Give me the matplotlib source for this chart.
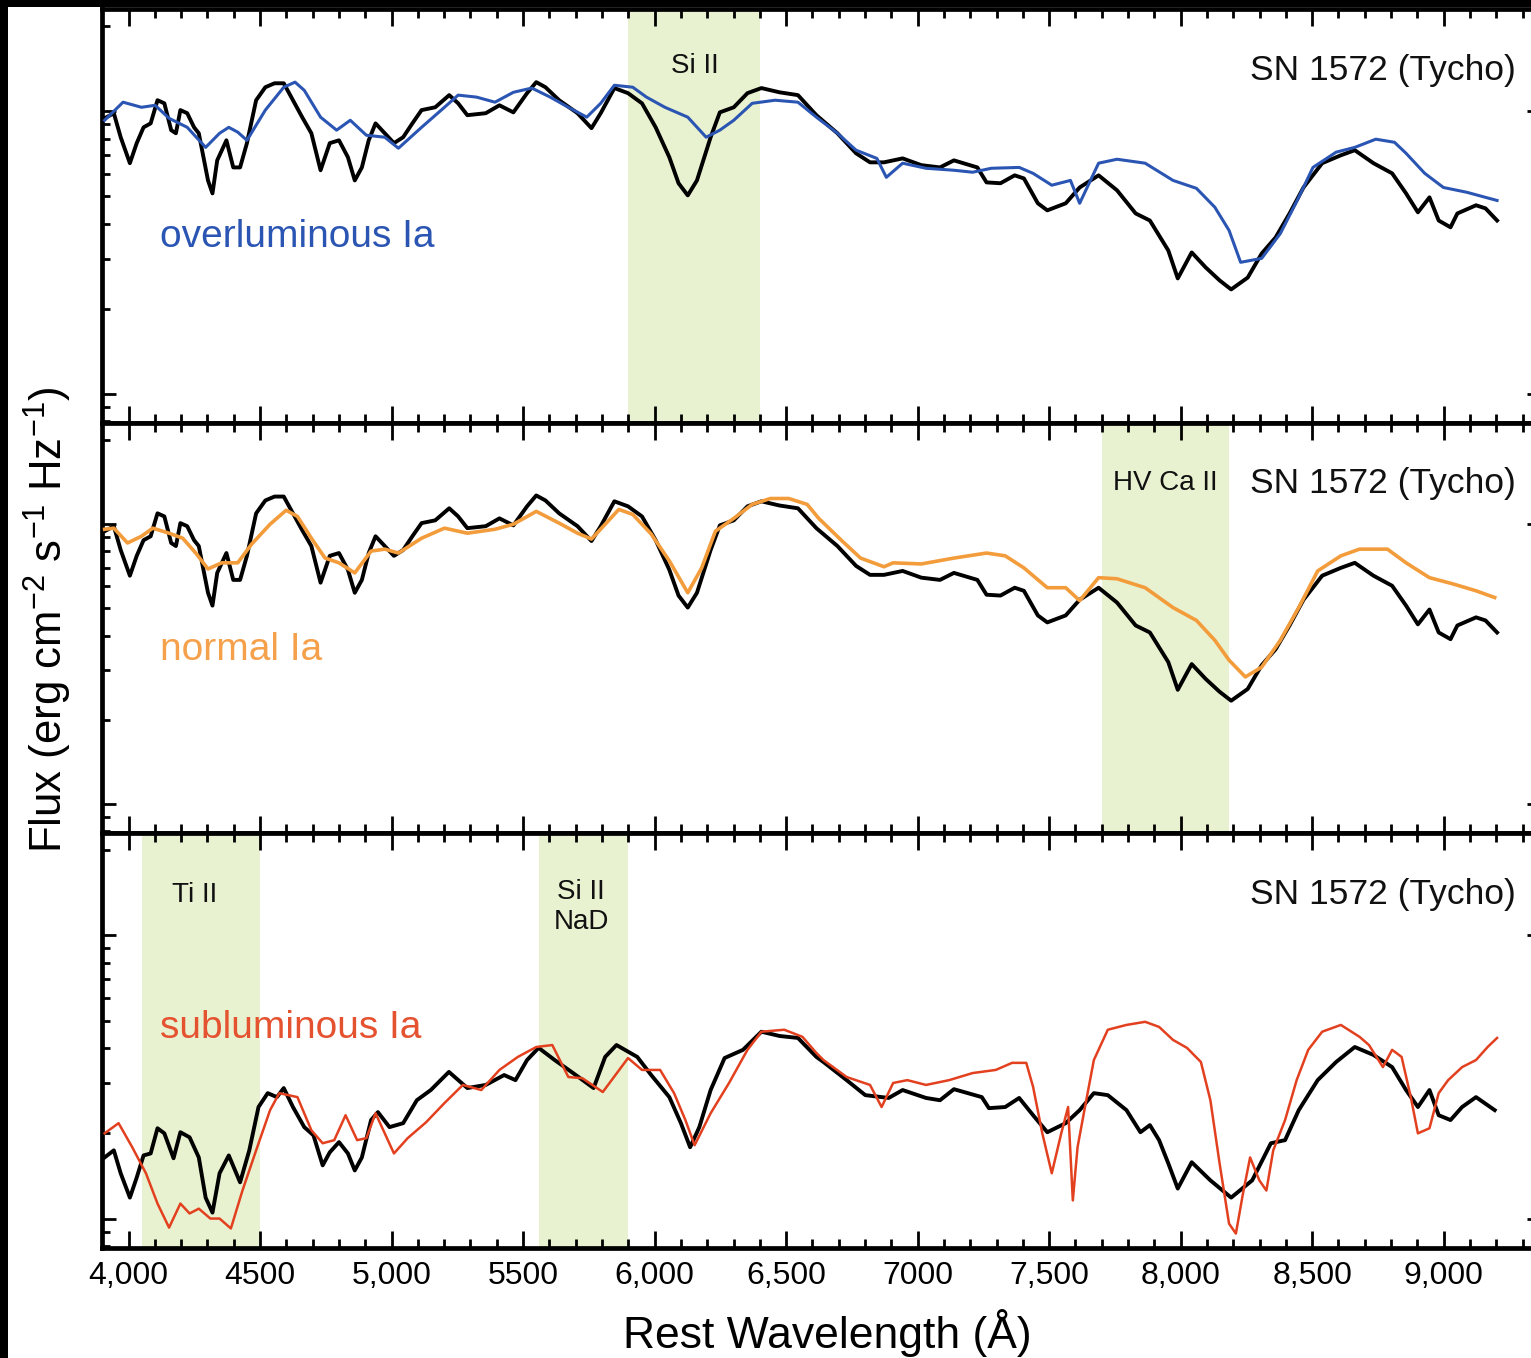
import numpy as np
import matplotlib
matplotlib.use("Agg")
import matplotlib.pyplot as plt
from matplotlib.ticker import MultipleLocator, FixedLocator, FixedFormatter, LogLocator, NullFormatter
from matplotlib.patches import Rectangle

plt.rcParams['font.family'] = ['Liberation Sans', 'DejaVu Sans']
plt.rcParams['mathtext.default'] = 'regular'

# ---------------- data (wavelength in Angstrom, log10 relative flux) ----------------
tycho_wl = [3909, 3944, 3970, 4005, 4031, 4057, 4084, 4110, 4136, 4162, 4180, 4197, 4223, 4249, 4267,
            4302, 4319, 4337, 4372, 4398, 4424, 4450, 4485, 4520, 4555, 4590, 4625, 4660, 4695, 4730,
            4765, 4800, 4834, 4860, 4887, 4913, 4939, 4974, 5009, 5044, 5079, 5114, 5166, 5219, 5253,
            5288, 5358, 5410, 5463, 5515, 5550, 5585, 5637, 5707, 5760, 5795, 5847, 5899, 5952, 6004,
            6056, 6091, 6126, 6161, 6213, 6248, 6301, 6353, 6406, 6475, 6545, 6615, 6695, 6766, 6819,
            6872, 6943, 7014, 7085, 7138, 7227, 7262, 7315, 7369, 7404, 7457, 7493, 7563, 7616, 7688,
            7758, 7829, 7883, 7953, 7989, 8042, 8095, 8148, 8192, 8255, 8308, 8361, 8414, 8467, 8538,
            8609, 8662, 8733, 8804, 8857, 8902, 8946, 8981, 9026, 9052, 9123, 9159, 9203]
tycho_logf = [0.975, 0.993, 0.908, 0.816, 0.887, 0.943, 0.957, 1.039, 1.028, 0.933, 0.922, 1.004, 0.993, 0.943, 0.922,
              0.755, 0.709, 0.826, 0.897, 0.801, 0.801, 0.887, 1.039, 1.085, 1.099, 1.099, 1.039, 0.979, 0.922, 0.791,
              0.887, 0.897, 0.837, 0.755, 0.801, 0.897, 0.957, 0.922, 0.887, 0.908, 0.957, 1.004, 1.014, 1.057, 1.028,
              0.986, 0.993, 1.021, 0.996, 1.064, 1.103, 1.085, 1.039, 0.993, 0.940, 0.993, 1.082, 1.064, 1.028, 0.943,
              0.837, 0.745, 0.702, 0.755, 0.908, 0.996, 1.014, 1.064, 1.082, 1.067, 1.057, 0.986, 0.922, 0.851, 0.819,
              0.819, 0.833, 0.809, 0.801, 0.826, 0.801, 0.748, 0.745, 0.773, 0.762, 0.674, 0.649, 0.674, 0.730, 0.773,
              0.720, 0.638, 0.613, 0.507, 0.408, 0.500, 0.447, 0.401, 0.369, 0.411, 0.496, 0.553, 0.638, 0.730, 0.816,
              0.844, 0.862, 0.816, 0.780, 0.709, 0.642, 0.695, 0.613, 0.589, 0.638, 0.667, 0.656, 0.613]

over_wl = [3909, 3979, 4049, 4101, 4154, 4223, 4293, 4346, 4381, 4415, 4450, 4520, 4590, 4633, 4668,
           4730, 4791, 4843, 4904, 4974, 5026, 5114, 5201, 5253, 5323, 5393, 5463, 5533, 5603, 5672,
           5742, 5795, 5847, 5917, 5969, 6039, 6126, 6196, 6248, 6301, 6371, 6458, 6545, 6615, 6695,
           6766, 6845, 6881, 6943, 7032, 7138, 7209, 7280, 7386, 7439, 7510, 7581, 7616, 7688, 7758,
           7865, 7971, 8060, 8130, 8184, 8228, 8308, 8379, 8449, 8503, 8591, 8662, 8742, 8813, 8857,
           8928, 8999, 9088, 9159, 9203]
over_logf = [0.968, 1.032, 1.014, 1.021, 0.975, 0.943, 0.872, 0.922, 0.943, 0.926, 0.897, 1.004, 1.085, 1.103, 1.074,
             0.979, 0.933, 0.968, 0.915, 0.908, 0.869, 0.943, 1.014, 1.057, 1.050, 1.032, 1.067, 1.082, 1.050, 1.014,
             0.979, 1.028, 1.092, 1.085, 1.050, 1.014, 0.979, 0.908, 0.933, 0.968, 1.028, 1.039, 1.032, 0.979, 0.922,
             0.862, 0.833, 0.766, 0.816, 0.798, 0.791, 0.784, 0.798, 0.801, 0.780, 0.738, 0.755, 0.674, 0.816, 0.830,
             0.816, 0.755, 0.727, 0.660, 0.578, 0.465, 0.479, 0.567, 0.695, 0.801, 0.855, 0.872, 0.901, 0.890, 0.851,
             0.780, 0.730, 0.713, 0.695, 0.684]

normal_wl = [3909, 3944, 3996, 4049, 4092, 4154, 4206, 4258, 4302, 4354, 4415, 4468, 4538, 4599, 4642,
             4695, 4747, 4800, 4860, 4922, 4974, 5026, 5114, 5201, 5288, 5393, 5463, 5550, 5637, 5707,
             5760, 5812, 5864, 5917, 5987, 6056, 6126, 6179, 6231, 6301, 6371, 6440, 6510, 6580, 6624,
             6713, 6783, 6872, 6907, 7014, 7138, 7262, 7333, 7404, 7493, 7563, 7616, 7688, 7758, 7865,
             7971, 8060, 8130, 8184, 8246, 8308, 8379, 8449, 8521, 8609, 8680, 8786, 8857, 8946, 9034,
             9123, 9194]
normal_logf = [0.982, 0.986, 0.933, 0.957, 0.986, 0.968, 0.950, 0.894, 0.840, 0.862, 0.862, 0.929, 1.000, 1.050, 1.028,
               0.950, 0.879, 0.862, 0.826, 0.904, 0.911, 0.897, 0.950, 0.986, 0.968, 0.982, 1.000, 1.046, 1.004, 0.968,
               0.947, 1.000, 1.053, 1.035, 0.965, 0.869, 0.755, 0.844, 0.975, 1.021, 1.071, 1.092, 1.092, 1.071, 1.021,
               0.940, 0.879, 0.848, 0.862, 0.858, 0.879, 0.897, 0.887, 0.844, 0.773, 0.773, 0.727, 0.809, 0.805, 0.773,
               0.702, 0.656, 0.585, 0.514, 0.454, 0.489, 0.585, 0.702, 0.833, 0.887, 0.911, 0.911, 0.862, 0.809, 0.787,
               0.762, 0.738]

tycho3_wl = [3909, 3944, 3970, 4005, 4031, 4057, 4084, 4110, 4136, 4171, 4197, 4232, 4267, 4293, 4319,
             4346, 4381, 4424, 4459, 4494, 4529, 4564, 4590, 4625, 4668, 4703, 4738, 4765, 4800, 4834,
             4860, 4887, 4922, 4948, 4992, 5044, 5096, 5149, 5218, 5288, 5358, 5428, 5471, 5515, 5559,
             5620, 5690, 5768, 5812, 5855, 5934, 5987, 6056, 6100, 6135, 6170, 6213, 6266, 6336, 6406,
             6475, 6545, 6615, 6642, 6730, 6801, 6890, 6943, 7032, 7085, 7138, 7244, 7271, 7333, 7386,
             7439, 7493, 7563, 7616, 7670, 7723, 7794, 7847, 7883, 7918, 7953, 7989, 8042, 8113, 8192,
             8272, 8343, 8397, 8449, 8521, 8591, 8662, 8733, 8804, 8857, 8902, 8946, 8981, 9026, 9070,
             9123, 9194]
tycho3_logf = [0.216, 0.241, 0.160, 0.074, 0.145, 0.223, 0.230, 0.319, 0.301, 0.213, 0.305, 0.287, 0.216, 0.074, 0.021,
               0.160, 0.223, 0.128, 0.241, 0.394, 0.443, 0.429, 0.461, 0.394, 0.323, 0.294, 0.188, 0.234, 0.270, 0.230,
               0.170, 0.216, 0.348, 0.376, 0.323, 0.337, 0.418, 0.454, 0.518, 0.461, 0.472, 0.507, 0.489, 0.560, 0.603,
               0.560, 0.514, 0.461, 0.571, 0.613, 0.571, 0.507, 0.429, 0.337, 0.252, 0.323, 0.454, 0.567, 0.596, 0.660,
               0.645, 0.638, 0.571, 0.553, 0.489, 0.436, 0.426, 0.454, 0.426, 0.418, 0.457, 0.429, 0.390, 0.394, 0.426,
               0.365, 0.305, 0.337, 0.383, 0.443, 0.436, 0.383, 0.305, 0.330, 0.277, 0.195, 0.106, 0.199, 0.135, 0.074,
               0.135, 0.266, 0.277, 0.383, 0.489, 0.553, 0.606, 0.578, 0.535, 0.454, 0.394, 0.454, 0.365, 0.348, 0.394,
               0.429, 0.383]

sub_wl = [3909, 3962, 4014, 4066, 4110, 4154, 4197, 4232, 4267, 4311, 4346, 4389, 4433, 4485, 4538,
          4573, 4642, 4695, 4738, 4782, 4825, 4869, 4904, 4939, 5009, 5061, 5131, 5201, 5271, 5341,
          5410, 5480, 5550, 5611, 5672, 5725, 5803, 5899, 5952, 6021, 6074, 6117, 6152, 6213, 6283,
          6353, 6406, 6493, 6562, 6615, 6642, 6730, 6819, 6863, 6907, 6961, 7032, 7120, 7209, 7297,
          7359, 7413, 7439, 7474, 7510, 7546, 7572, 7590, 7608, 7634, 7670, 7723, 7794, 7865, 7918,
          7971, 8024, 8077, 8113, 8148, 8184, 8210, 8237, 8264, 8299, 8326, 8352, 8397, 8441, 8485,
          8538, 8609, 8680, 8716, 8769, 8804, 8840, 8875, 8902, 8946, 8981, 9017, 9070, 9123, 9167,
          9203]
sub_logf = [0.301, 0.337, 0.252, 0.160, 0.053, -0.032, 0.053, 0.018, 0.035, 0.000, 0.000, -0.035, 0.099, 0.241, 0.383,
            0.443, 0.429, 0.312, 0.266, 0.277, 0.365, 0.277, 0.284, 0.372, 0.230, 0.284, 0.340, 0.408, 0.472, 0.454,
            0.525, 0.571, 0.606, 0.613, 0.500, 0.496, 0.447, 0.567, 0.525, 0.525, 0.443, 0.348, 0.259, 0.372, 0.479,
            0.596, 0.660, 0.667, 0.642, 0.585, 0.560, 0.500, 0.472, 0.394, 0.479, 0.489, 0.472, 0.489, 0.514, 0.525,
            0.550, 0.550, 0.465, 0.301, 0.160, 0.301, 0.394, 0.064, 0.252, 0.383, 0.560, 0.667, 0.684, 0.695, 0.677,
            0.631, 0.603, 0.553, 0.418, 0.195, -0.018, -0.053, 0.089, 0.216, 0.135, 0.099, 0.241, 0.348, 0.489, 0.596,
            0.660, 0.684, 0.642, 0.613, 0.535, 0.596, 0.571, 0.429, 0.301, 0.319, 0.443, 0.489, 0.535, 0.560, 0.606,
            0.638]

panel_labels = ["overluminous Ia", "normal Ia", "subluminous Ia"]
object_label = "SN 1572 (Tycho)"
band_ranges = [[(5900, 6400)], [(7700, 8185)], [(4050, 4500), (5560, 5900)]]
band_texts = [[("Si II", 6154)], [("HV Ca II", 7941)], [("Ti II", 4253), ("Si II\nNaD", 5720)]]
xtick_values = [4000, 4500, 5000, 5500, 6000, 6500, 7000, 7500, 8000, 8500, 9000]
xtick_labels = ["4,000", "4500", "5,000", "5500", "6,000", "6,500", "7000", "7,500", "8,000", "8,500", "9,000"]

# ---------------- figure ----------------
W, H = 1531, 1358
fig = plt.figure(figsize=(W / 100, H / 100), dpi=100)

left = 102 / W
right_edge = 1541 / W
tops = [9, 423, 833]
bottoms = [423, 833, 1248]

comp_wl = [over_wl, normal_wl, sub_wl]
comp_logf = [over_logf, normal_logf, sub_logf]
comp_colors = ['#2b55b3', '#f39c3c', '#e2401f']
label_colors = ['#2b55b3', '#f5a04a', '#e55230']
comp_lw = [2.2, 2.6, 1.8]
black_wl = [tycho_wl, tycho_wl, tycho3_wl]
black_logf = [tycho_logf, tycho_logf, tycho3_logf]
label_y = [0.553, 0.55, 0.674]
band_text_y = [0.863, 0.854, 0.851]

band_color = '#e9f2d0'
ylim = (10 ** -0.104, 10 ** 1.362)
xlim = (3899, 9370)

axes = []
for i in range(3):
    b = 1 - bottoms[i] / H
    h = (bottoms[i] - tops[i]) / H
    ax = fig.add_axes([left, b, right_edge - left, h])
    axes.append(ax)
    ax.set_yscale('log')
    ax.set_xlim(*xlim)
    ax.set_ylim(*ylim)

    for (a0, a1) in band_ranges[i]:
        ax.axvspan(a0, a1, color=band_color, lw=0, zorder=0)

    ax.plot(black_wl[i], 10 ** np.array(black_logf[i]), color='black', lw=2.8, zorder=3)
    ax.plot(comp_wl[i], 10 ** np.array(comp_logf[i]), color=comp_colors[i], lw=comp_lw[i], zorder=4)

    ax.text(4120, 10 ** label_y[i], panel_labels[i], color=label_colors[i], fontsize=28,
            ha='left', va='center', zorder=5)
    ax.text(9275, 0.852, object_label, transform=ax.get_xaxis_transform(), fontsize=25.5,
            ha='right', va='center', color='#111111', zorder=5)
    for (txt, xc) in band_texts[i]:
        yy = band_text_y[i] if '\n' not in txt else 0.822
        ax.text(xc, yy, txt, transform=ax.get_xaxis_transform(), fontsize=20,
                family=['Liberation Sans Narrow', 'Liberation Sans', 'DejaVu Sans'],
                ha='center', va='center', color='#111111', linespacing=1.2, zorder=5)

    for sp in ax.spines.values():
        sp.set_linewidth(3.4)
    ax.xaxis.set_major_locator(FixedLocator(xtick_values))
    ax.xaxis.set_minor_locator(MultipleLocator(100))
    ax.tick_params(axis='x', which='both', direction='in', top=True, bottom=True, width=2.0)
    ax.tick_params(axis='x', which='major', length=12)
    ax.tick_params(axis='x', which='minor', length=6.5)
    ax.yaxis.set_major_locator(LogLocator(base=10, subs=(1.0,)))
    ax.yaxis.set_minor_locator(LogLocator(base=10, subs=np.arange(2, 10)))
    ax.yaxis.set_major_formatter(NullFormatter())
    ax.yaxis.set_minor_formatter(NullFormatter())
    ax.tick_params(axis='y', which='both', direction='in', left=True, right=True, width=2.0,
                   labelleft=False, labelright=False)
    ax.tick_params(axis='y', which='major', length=10)
    ax.tick_params(axis='y', which='minor', length=6)
    if i < 2:
        ax.tick_params(axis='x', labelbottom=False)
    else:
        ax.xaxis.set_major_formatter(FixedFormatter(xtick_labels))
        ax.tick_params(axis='x', which='major', labelsize=23, pad=9)

fig.text(48 / W, 1 - 620 / H, 'Flux (erg cm$^{-2}$ s$^{-1}$ Hz$^{-1}$)', rotation=90,
         fontsize=31.5, ha='center', va='center')
fig.text(827 / W, 1 - 1333 / H, 'Rest Wavelength (Å)', fontsize=32, ha='center', va='center')

# black frame strips of the original scan
fig.add_artist(Rectangle((0, 0), 8 / W, 1, transform=fig.transFigure, color='black', lw=0, zorder=10))
fig.add_artist(Rectangle((0, 1 - 7 / H), 1, 7 / H, transform=fig.transFigure, color='black', lw=0, zorder=10))

fig.savefig('out.png', dpi=100)
